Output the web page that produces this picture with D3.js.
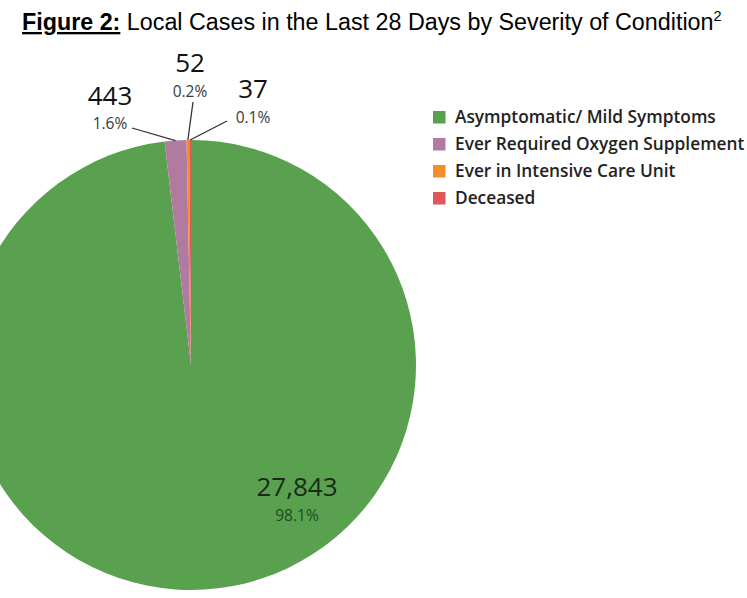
<!DOCTYPE html>
<html>
<head>
<meta charset="utf-8">
<script src="https://cdn.jsdelivr.net/npm/d3@7"></script>
<style>
  body { margin: 0; background: #fff; }
  svg { display: block; }
</style>
</head>
<body>
<div id="chart"></div>
<script>
// data
const categories = ["Asymptomatic/ Mild Symptoms", "Ever Required Oxygen Supplement", "Ever in Intensive Care Unit", "Deceased"];
const cases = [27843, 443, 52, 37];
const pctLabels = ["98.1%", "1.6%", "0.2%", "0.1%"];
const colors = ["#59A14F", "#B07AA1", "#F28E2B", "#E15759"];

const width = 747, height = 598;
const cx = 191, cy = 365, r = 225;

const svg = d3.select("#chart").append("svg")
  .attr("width", width)
  .attr("height", height);

// title
const title = svg.append("text")
  .attr("x", 22)
  .attr("y", 30)
  .attr("font-family", "Liberation Sans, Arial, sans-serif")
  .attr("font-size", 23.3)
  .attr("fill", "#000");
title.append("tspan").attr("font-weight", "bold").attr("text-decoration", "underline").text("Figure 2:");
title.append("tspan").text(" Local Cases in the Last 28 Days by Severity of Condition");
title.append("tspan").attr("font-size", 14.5).attr("dy", -9).text("2");

const rows = categories.map((c, i) => ({ name: c, value: cases[i], pct: pctLabels[i], color: colors[i] }));

const pie = d3.pie().sort(null).value(d => d.value);
const arcs = pie(rows);
const arc = d3.arc().innerRadius(0).outerRadius(r);
const edge = d3.arc().innerRadius(r).outerRadius(r);

const g = svg.append("g").attr("transform", `translate(${cx},${cy})`);

g.selectAll("path.slice")
  .data(arcs)
  .enter().append("path")
  .attr("class", "slice")
  .attr("d", arc)
  .attr("fill", d => d.data.color);

// label placement (relative to pie centre)
const labelPos = [
  { x: 106, y: 131, gap: 25, line: null },
  { x: -81, y: -260, gap: 24, line: [-59, -237] },
  { x: -1, y: -293, gap: 25, line: [2, -263] },
  { x: 62, y: -267, gap: 25, line: [36, -244] }
];

const lbl = g.selectAll("g.lbl")
  .data(arcs)
  .enter().append("g")
  .attr("class", "lbl");

lbl.filter(d => labelPos[d.index].line)
  .append("line")
  .attr("x1", d => edge.centroid(d)[0])
  .attr("y1", d => edge.centroid(d)[1])
  .attr("x2", d => labelPos[d.index].line[0])
  .attr("y2", d => labelPos[d.index].line[1])
  .attr("stroke", "#333")
  .attr("stroke-width", 1.3);

lbl.append("text")
  .attr("x", d => labelPos[d.index].x)
  .attr("y", d => labelPos[d.index].y)
  .attr("text-anchor", "middle")
  .attr("font-family", "Open Sans, Noto Sans, sans-serif")
  .attr("font-size", 26)
  .attr("fill", d => d.index === 0 ? "#1b2a18" : "#111")
  .text(d => d3.format(",")(d.data.value));

lbl.append("text")
  .attr("x", d => labelPos[d.index].x)
  .attr("y", d => labelPos[d.index].y + labelPos[d.index].gap)
  .attr("text-anchor", "middle")
  .attr("font-family", "Open Sans, Noto Sans, sans-serif")
  .attr("font-size", 15.5)
  .attr("fill", d => d.index === 0 ? "#234a1d" : "#3a3a3a")
  .text(d => d.data.pct);

// legend
const legend = svg.append("g").attr("transform", "translate(433,111)");
const item = legend.selectAll("g")
  .data(rows)
  .enter().append("g")
  .attr("transform", (d, i) => `translate(0,${i * 27})`);
item.append("rect")
  .attr("width", 12.5)
  .attr("height", 12.5)
  .attr("fill", d => d.color);
item.append("text")
  .attr("x", 22)
  .attr("y", 12)
  .attr("font-family", "Open Sans, Noto Sans, sans-serif")
  .attr("font-size", 17.3)
  .attr("font-weight", 600)
  .attr("fill", "#222")
  .text(d => d.name);
</script>
</body>
</html>
